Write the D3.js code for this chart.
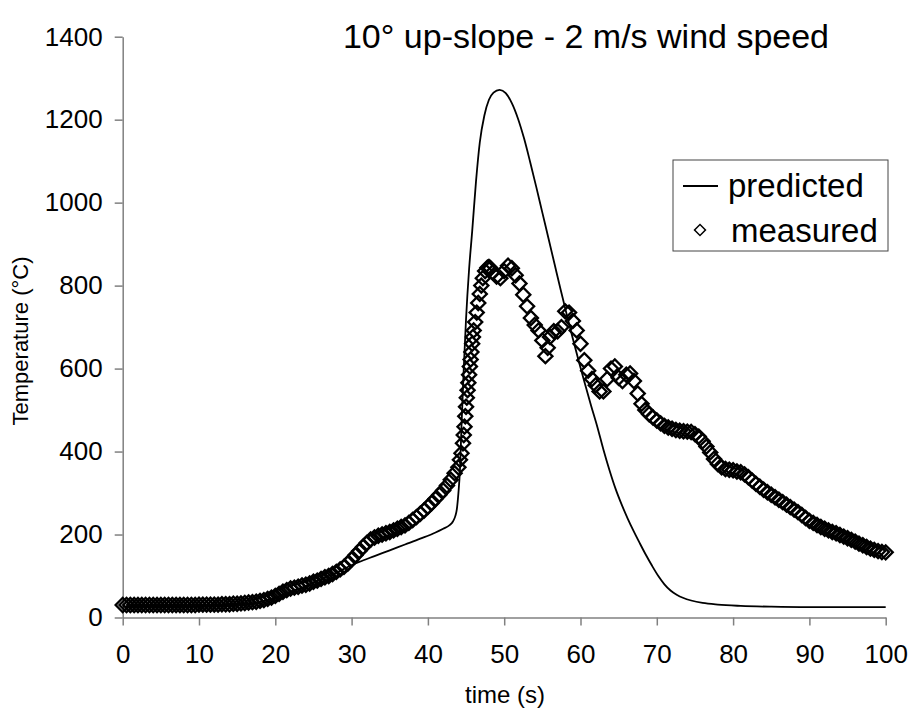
<!DOCTYPE html>
<html>
<head>
<meta charset="utf-8">
<style>
  body { margin: 0; background: #fff; }
  .chart text { font-family: "Liberation Sans", Arial, sans-serif; fill: #000; }
  .axis .domain, .axis .tick line { stroke: #808080; stroke-width: 1.5px; }
</style>
</head>
<body>
<div class="chart"></div>

<script src="https://d3js.org/d3.v7.min.js"></script>
<script>
  // predicted curve (time s, temperature °C)
  const predTime = [0, 5, 10, 14, 16, 18, 20, 22, 24, 26, 28, 30, 31, 33, 35, 37, 39, 41, 42, 42.8,
    43.3, 43.6, 43.8, 44.0, 44.2, 44.4, 44.7, 45.0, 45.4, 45.8, 46.3, 46.8, 47.4, 48.0, 48.6, 49.4,
    50.2, 51.0, 51.8, 52.6, 53.4, 54.2, 55.0, 55.8, 56.6, 57.4, 58.2, 59.0, 59.8, 60.6, 61.4, 62.2,
    63.0, 63.8, 64.6, 65.4, 66.2, 67.0, 67.8, 68.6, 69.4, 70.2, 71.0, 71.8, 72.6, 73.5, 74.5, 76, 78,
    81, 85, 90, 100]
  const predTemp = [26, 26, 27, 29, 32, 38, 48, 62, 76, 92, 108, 126, 134, 148, 162, 176, 190, 205, 214, 222,
    232, 245, 262, 300, 355, 460, 600, 720, 840, 930, 1050, 1145, 1210, 1248, 1265, 1272,
    1264, 1240, 1203, 1155, 1098, 1038, 976, 914, 852, 790, 730, 672, 616, 562, 510, 460,
    405, 355, 310, 272, 238, 207, 178, 150, 124, 100, 80, 65, 55, 47, 41, 35, 31,
    28, 26, 25, 25]

  // measured thermocouple readings
  const measTime = [0, 0.5, 1, 1.5, 2, 2.5, 3, 3.5, 4, 4.5, 5, 5.5, 6, 6.5, 7, 7.5, 8, 8.5, 9, 9.5,
    10, 10.5, 11, 11.5, 12, 12.5, 13, 13.5, 14, 14.5, 15, 15.5, 16, 16.5, 17, 17.5, 18, 18.5, 19, 19.5,
    20, 20.5, 21, 21.5, 22, 22.5, 23, 23.5, 24, 24.5, 25, 25.5, 26, 26.5, 27, 27.5, 28, 28.5, 29, 29.5,
    30, 30.5, 31, 31.5, 32, 32.5, 33, 33.5, 34, 34.5, 35, 35.5, 36, 36.5, 37, 37.5, 38, 38.5, 39, 39.5,
    40, 40.5, 41, 41.5, 42, 42.5, 43, 43.5, 44, 44.2, 44.4, 44.6, 44.7, 44.8, 44.9, 45.0, 45.1, 45.2,
    45.3, 45.4, 45.5, 45.6, 45.7, 45.8, 45.9, 46.0, 46.2, 46.4, 46.6, 46.8, 47.0, 47.2, 47.5, 47.8,
    48.0, 48.2, 48.5, 49.0, 49.5, 50.0, 50.5, 51.0, 51.5, 52.0, 52.5, 53.0, 53.5, 54.0, 54.5, 55.0,
    55.4, 55.7, 56.0, 56.5, 57.0, 57.5, 58.0, 58.5, 59.0, 59.5, 60.0, 60.5, 61.0, 61.5, 62.0, 62.5,
    63.0, 63.5, 64.0, 64.5, 65.0, 65.5, 66.0, 66.5, 67.0, 67.5, 68.0, 68.5, 69.0, 69.5, 70.0, 70.5,
    71.0, 71.5, 72.0, 72.5, 73.0, 73.5, 74.0, 74.5, 75.0, 75.5, 76.0, 76.5, 77.0, 77.5, 78.0, 78.5,
    79.0, 79.5, 80.0, 80.5, 81.0, 81.5, 82.0, 82.5, 83.0, 83.5, 84.0, 84.5, 85.0, 85.5, 86.0, 86.5,
    87.0, 87.5, 88.0, 88.5, 89.0, 89.5, 90.0, 90.5, 91.0, 91.5, 92.0, 92.5, 93.0, 93.5, 94.0, 94.5,
    95.0, 95.5, 96.0, 96.5, 97.0, 97.5, 98.0, 98.5, 99.0, 99.5, 100]
  const measTemp = [30, 30, 30, 30, 30, 30, 30, 30, 30, 30, 30, 30, 30, 30, 30, 30, 30, 30, 30, 30,
    31, 31, 31, 31, 31, 31, 32, 32, 32, 33, 33, 34, 35, 36, 37, 38, 40, 42, 45, 48,
    52, 57, 62, 66, 70, 72, 74, 77, 79, 82, 86, 89, 93, 97, 100, 105, 110, 116, 122, 130,
    140, 150, 160, 170, 180, 188, 193, 197, 200, 203, 206, 210, 214, 218, 222, 228, 235, 242, 250, 258,
    267, 276, 286, 296, 306, 318, 332, 348, 362, 380, 396, 420, 440, 460, 485, 508, 530, 548,
    566, 585, 605, 622, 640, 660, 676, 692, 712, 735, 758, 780, 800, 818, 835, 843,
    845, 842, 832, 822, 818, 835, 848, 842, 825, 805, 778, 750, 722, 705, 692, 668,
    630, 650, 676, 690, 690, 700, 738, 735, 715, 692, 660, 620, 595, 575, 560, 545,
    545, 575, 600, 605, 578, 570, 585, 588, 570, 540, 515, 500, 490, 482, 475, 468,
    462, 458, 455, 452, 450, 449, 448, 447, 442, 436, 425, 412, 398, 382, 370, 362,
    358, 356, 355, 352, 350, 345, 338, 330, 322, 315, 308, 302, 296, 290, 284, 278,
    272, 266, 260, 254, 247, 240, 233, 228, 223, 218, 214, 210, 206, 203, 199, 195,
    191, 187, 183, 178, 174, 170, 166, 163, 160, 158, 157]

  const xTicks = [0, 10, 20, 30, 40, 50, 60, 70, 80, 90, 100]
  const yTicks = [0, 200, 400, 600, 800, 1000, 1200, 1400]

  const svgWidth = 912, svgHeight = 713
  const plotLeft = 122.7, plotRight = 885.7, plotTop = 36.7, plotBottom = 617.5

  const svg = d3.select('.chart')
                .append('svg')
                .attr('width', svgWidth)
                .attr('height', svgHeight)

  const xScale = d3.scaleLinear().domain([0, 100]).range([plotLeft, plotRight])
  const yScale = d3.scaleLinear().domain([0, 1400]).range([plotBottom, plotTop])

  // axes
  const xAxis = d3.axisBottom(xScale)
                  .tickValues(xTicks)
                  .tickSizeInner(8)
                  .tickSizeOuter(0)
                  .tickPadding(19)
  svg.append('g')
     .attr('class', 'axis')
     .attr('transform', `translate(0, ${plotBottom})`)
     .call(xAxis)

  const yAxis = d3.axisLeft(yScale)
                  .tickValues(yTicks)
                  .tickSizeInner(8)
                  .tickSizeOuter(0)
                  .tickPadding(12)
                  .tickFormat(d3.format('d'))
  svg.append('g')
     .attr('class', 'axis')
     .attr('transform', `translate(${plotLeft}, 0)`)
     .call(yAxis)

  svg.selectAll('.axis')
     .attr('font-family', null)
     .attr('font-size', null)
  svg.selectAll('.axis text').style('font-size', '26px')

  // predicted line
  const line = d3.line()
                 .x((d, i) => xScale(predTime[i]))
                 .y(d => yScale(d))
                 .curve(d3.curveMonotoneX)
  svg.append('path')
     .attr('fill', 'none')
     .attr('stroke', '#000')
     .attr('stroke-width', 1.8)
     .attr('d', line(predTemp))

  // measured diamonds (hollow, they overlap into a thick band)
  const diamond = d3.symbol(d3.symbolSquare, 100)
  svg.append('g')
     .selectAll('path')
     .data(measTemp)
     .join('path')
     .attr('d', diamond)
     .attr('transform', (d, i) => `translate(${xScale(measTime[i])}, ${yScale(d)}) rotate(45)`)
     .attr('fill', 'none')
     .attr('stroke', '#000')
     .attr('stroke-width', 2.3)

  // titles
  svg.append('text')
     .attr('x', 586)
     .attr('y', 48)
     .attr('text-anchor', 'middle')
     .style('font-size', '34px')
     .text('10° up-slope - 2 m/s wind speed')

  svg.append('text')
     .attr('x', 505)
     .attr('y', 703)
     .attr('text-anchor', 'middle')
     .style('font-size', '24px')
     .text('time (s)')

  svg.append('text')
     .attr('transform', 'translate(28, 341) rotate(-90)')
     .attr('text-anchor', 'middle')
     .style('font-size', '22px')
     .text('Temperature (°C)')

  // legend
  const legend = svg.append('g')
  legend.append('rect')
        .attr('x', 673)
        .attr('y', 160)
        .attr('width', 215)
        .attr('height', 91)
        .attr('fill', '#fff')
        .attr('stroke', '#444')
        .attr('stroke-width', 1)
  legend.append('line')
        .attr('x1', 683).attr('x2', 718)
        .attr('y1', 186).attr('y2', 186)
        .attr('stroke', '#000')
        .attr('stroke-width', 1.8)
  legend.append('path')
        .attr('d', d3.symbol(d3.symbolSquare, 60))
        .attr('transform', 'translate(700, 230) rotate(45)')
        .attr('fill', 'none')
        .attr('stroke', '#000')
        .attr('stroke-width', 1.5)
  legend.append('text')
        .attr('x', 728).attr('y', 197)
        .style('font-size', '33px')
        .text('predicted')
  legend.append('text')
        .attr('x', 731).attr('y', 242)
        .style('font-size', '33px')
        .text('measured')
</script>
</body>
</html>
